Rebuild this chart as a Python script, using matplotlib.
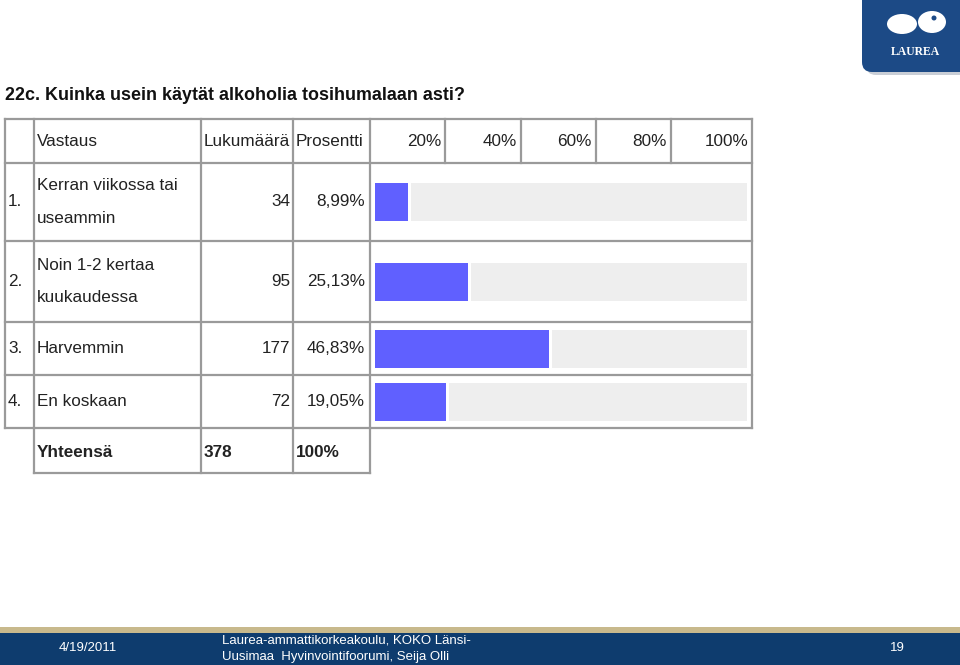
import matplotlib.pyplot as plt
from matplotlib.patches import FancyBboxPatch, Rectangle, Ellipse

# ---- data -------------------------------------------------------------
title = "22c. Kuinka usein käytät alkoholia tosihumalaan asti?"
headers = ["Vastaus", "Lukumäärä", "Prosentti"]
scale_labels = ["20%", "40%", "60%", "80%", "100%"]
row_numbers = ["1.", "2.", "3.", "4."]
answers = ["Kerran viikossa tai\nuseammin", "Noin 1-2 kertaa\nkuukaudessa",
           "Harvemmin", "En koskaan"]
counts = [34, 95, 177, 72]
percents = [8.99, 25.13, 46.83, 19.05]
total_label = "Yhteensä"
total_count = 378
total_percent = "100%"
footer_date = "4/19/2011"
footer_text = "Laurea-ammattikorkeakoulu, KOKO Länsi-\nUusimaa  Hyvinvointifoorumi, Seija Olli"
page_no = "19"

W, H = 960, 665
FONT = ["Liberation Sans", "DejaVu Sans"]
BORDER = "#9a9a9a"
BLUE = "#6060ff"
TRACK = "#eeeeee"
TXT = "#222222"

fig = plt.figure(figsize=(W / 100, H / 100), dpi=100)
bg = fig.add_axes([0, 0, 1, 1])
bg.set_xlim(0, W)
bg.set_ylim(H, 0)
bg.axis("off")

# title
bg.text(5, 96, title, fontsize=12.9, fontweight="bold", family=FONT,
        color="#111111", va="center", ha="left")

# table grid (pixel layout)
col_x = [5, 34, 201, 293, 370]
scale_x = [370, 445, 521, 596, 671, 752]
row_y = [119, 163, 241, 322, 375, 428]
total_bottom = 473
lw = 1.6


def hline(y, x0, x1):
    bg.plot([x0, x1], [y, y], color=BORDER, lw=lw, solid_capstyle="projecting")


def vline(x, y0, y1):
    bg.plot([x, x], [y0, y1], color=BORDER, lw=lw, solid_capstyle="projecting")


for y in row_y:
    hline(y, 5, 752)
hline(total_bottom, 34, 370)
for x in col_x:
    vline(x, row_y[0], row_y[-1])
vline(752, row_y[0], row_y[-1])
for x in scale_x[1:-1]:
    vline(x, row_y[0], row_y[1])
for x in col_x[1:]:
    vline(x, row_y[-1], total_bottom)

# header texts
hy = (row_y[0] + row_y[1]) / 2 + 1
hsize = 12.3
tsize = 12.3
bg.text(37, hy, headers[0], fontsize=hsize, family=FONT, va="center", color=TXT)
bg.text(204, hy, headers[1], fontsize=hsize, family=FONT, va="center", color=TXT)
bg.text(296, hy, headers[2], fontsize=hsize, family=FONT, va="center", color=TXT)
for lbl, x1 in zip(scale_labels, scale_x[1:]):
    bg.text(x1 - 4, hy, lbl, fontsize=hsize, family=FONT, va="center",
            ha="right", color=TXT)

# body rows
centers = [(a + b) / 2 for a, b in zip(row_y[1:-1], row_y[2:])]
for num, ans, cnt, pct, cy in zip(row_numbers, answers, counts, percents, centers):
    bg.text(8, cy, num, fontsize=tsize, family=FONT, va="center", color=TXT)
    bg.text(37, cy, ans, fontsize=tsize, family=FONT, va="center", color=TXT,
            linespacing=2.45)
    bg.text(290, cy, str(cnt), fontsize=tsize, family=FONT, va="center", ha="right",
            color=TXT)
    bg.text(365, cy, f"{pct:.2f}%".replace(".", ","), fontsize=tsize, family=FONT,
            va="center", ha="right", color=TXT)

ty = (row_y[-1] + total_bottom) / 2 + 2
bg.text(37, ty, total_label, fontsize=tsize, fontweight="bold", family=FONT,
        va="center", color=TXT)
bg.text(204, ty, str(total_count), fontsize=tsize, fontweight="bold", family=FONT,
        va="center", color=TXT)
bg.text(296, ty, total_percent, fontsize=tsize, fontweight="bold", family=FONT,
        va="center", color=TXT)

# bars: x axis in percent over the bar track
bx = fig.add_axes([375 / W, 0, (747 - 375) / W, 1])
bx.set_xlim(0, 100)
bx.set_ylim(H, 0)
bx.axis("off")
gap = 0.8
bx.barh(centers, [100 - p - gap for p in percents], left=[p + gap for p in percents],
        height=38, color=TRACK)
bx.barh(centers, percents, height=38, color=BLUE)

# logo top right
bg.add_patch(FancyBboxPatch((866, -20), 110, 95, boxstyle="round,pad=0,rounding_size=10",
                            facecolor="#c9ced6", edgecolor="none"))
bg.add_patch(FancyBboxPatch((862, -20), 110, 92, boxstyle="round,pad=0,rounding_size=10",
                            facecolor="#1c4a86", edgecolor="none"))
bg.add_patch(Ellipse((902, 24), 30, 20, facecolor="white"))
bg.add_patch(Ellipse((932, 22), 28, 22, facecolor="white"))
bg.add_patch(Ellipse((934, 18), 5, 5, facecolor="#1c4a86"))
bg.text(915, 52, "LAUREA", fontsize=8.5, family="Liberation Serif", color="white",
        ha="center", va="center", fontweight="bold")

# footer
bg.add_patch(Rectangle((0, 627), W, 6, facecolor="#c8b98c", edgecolor="none"))
bg.add_patch(Rectangle((0, 633), W, 32, facecolor="#0e3c6e", edgecolor="none"))
bg.text(88, 648, footer_date, fontsize=9.5, family=FONT, color="white",
        ha="center", va="center")
bg.text(222, 649, footer_text, fontsize=9.5, family=FONT, color="white",
        ha="left", va="center", linespacing=1.5)
bg.text(897, 648, page_no, fontsize=9.5, family=FONT, color="white",
        ha="center", va="center")

fig.savefig("out.png", dpi=100)
